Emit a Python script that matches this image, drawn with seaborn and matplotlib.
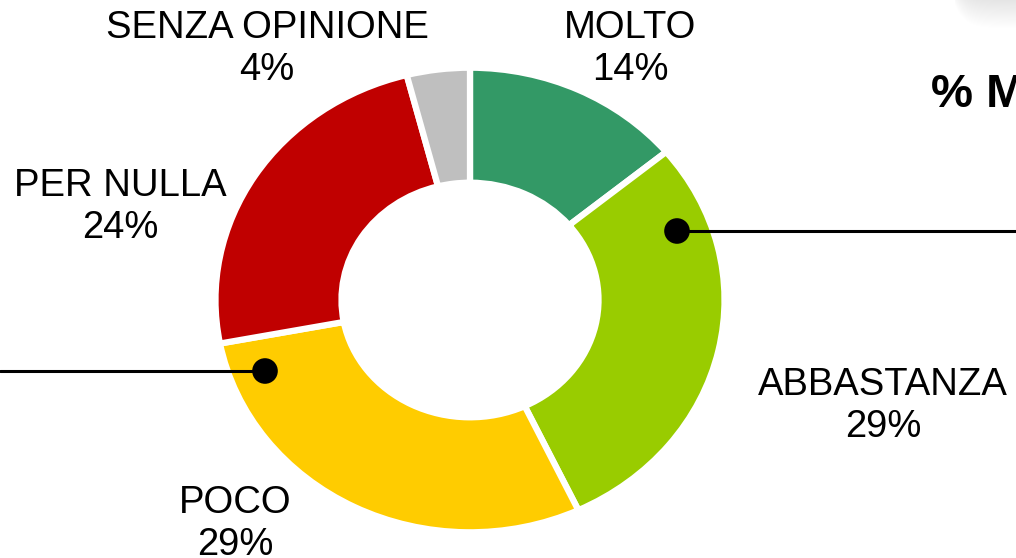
import numpy as np
import pandas as pd
import matplotlib
matplotlib.use("Agg")
import matplotlib.pyplot as plt
import seaborn as sns

# Data
categories = ['MOLTO', 'ABBASTANZA', 'POCO', 'PER NULLA', 'SENZA OPINIONE']
values = [14, 29, 29, 24, 4]
colors = ['#339966', '#99CC00', '#FFCC00', '#C00000', '#BFBFBF']

# label anchor positions (pixels in the original picture)
label_px = [(630, 49), (883, 406), (235, 524), (120, 207), (267, 49)]
# callout dots / lines (pixels)
callouts = pd.DataFrame({'x': [677, 265], 'y': [231, 371], 'end': [1016, 0]})

W, H = 1016, 558
cx, cy = 470, 300       # donut centre in pixels
rx, ry = 252, 230       # picture is slightly stretched horizontally

sns.set_theme(style='white')
plt.rcParams['font.family'] = ['Liberation Sans', 'DejaVu Sans']


def to_data(px, py):
    return (px - cx) / rx, (cy - py) / ry


def fix_limits(ax):
    ax.set_xlim(to_data(0, 0)[0], to_data(W, 0)[0])
    ax.set_ylim(to_data(0, H)[1], to_data(0, 0)[1])
    ax.set_aspect('auto')
    ax.axis('off')


fig = plt.figure(figsize=(W / 100, H / 100), dpi=100)
ax = fig.add_axes([0, 0, 1, 1])

ax.pie(values, colors=colors, startangle=90, counterclock=False, radius=1.01,
       wedgeprops=dict(width=0.5, edgecolor='white', linewidth=4.5))
fix_limits(ax)

for name, v, (px, py) in zip(categories, values, label_px):
    x, y = to_data(px, py)
    ax.text(x, y, f'{name}\n{v}%', ha='center', va='center', fontsize=27.5,
            color='black', linespacing=1.2)

# callouts
for _, r in callouts.iterrows():
    x0, y0 = to_data(r['x'], r['y'])
    x1, _ = to_data(r['end'], r['y'])
    ax.plot([x0, x1], [y0, y0], color='black', lw=2.2, zorder=4)
cd = callouts.copy()
cd['dx'] = (cd['x'] - cx) / rx
cd['dy'] = (cy - cd['y']) / ry
sns.scatterplot(data=cd, x='dx', y='dy', ax=ax, color='black', s=340,
                edgecolor='none', zorder=5, legend=False)
fix_limits(ax)

# cropped title at the right edge
fig.text(931 / W, 1 - 107 / H, '% M', fontsize=34, fontweight='bold',
         ha='left', va='baseline', color='black')

# faint cropped picture at top right
gy = np.linspace(0.86, 1.0, 40).reshape(-1, 1)
gx = np.linspace(0.0, 1.0, 60).reshape(1, -1)
grad = np.clip(gy + 0.08 * np.exp(-gx * 6) + 0.04, 0, 1)
img_ax = fig.add_axes([955 / W, 1 - 40 / H, 61 / W, 40 / H])
img_ax.imshow(np.dstack([grad, grad, grad]), aspect='auto', vmin=0, vmax=1)
img_ax.axis('off')

fig.savefig('out.png', dpi=100)
